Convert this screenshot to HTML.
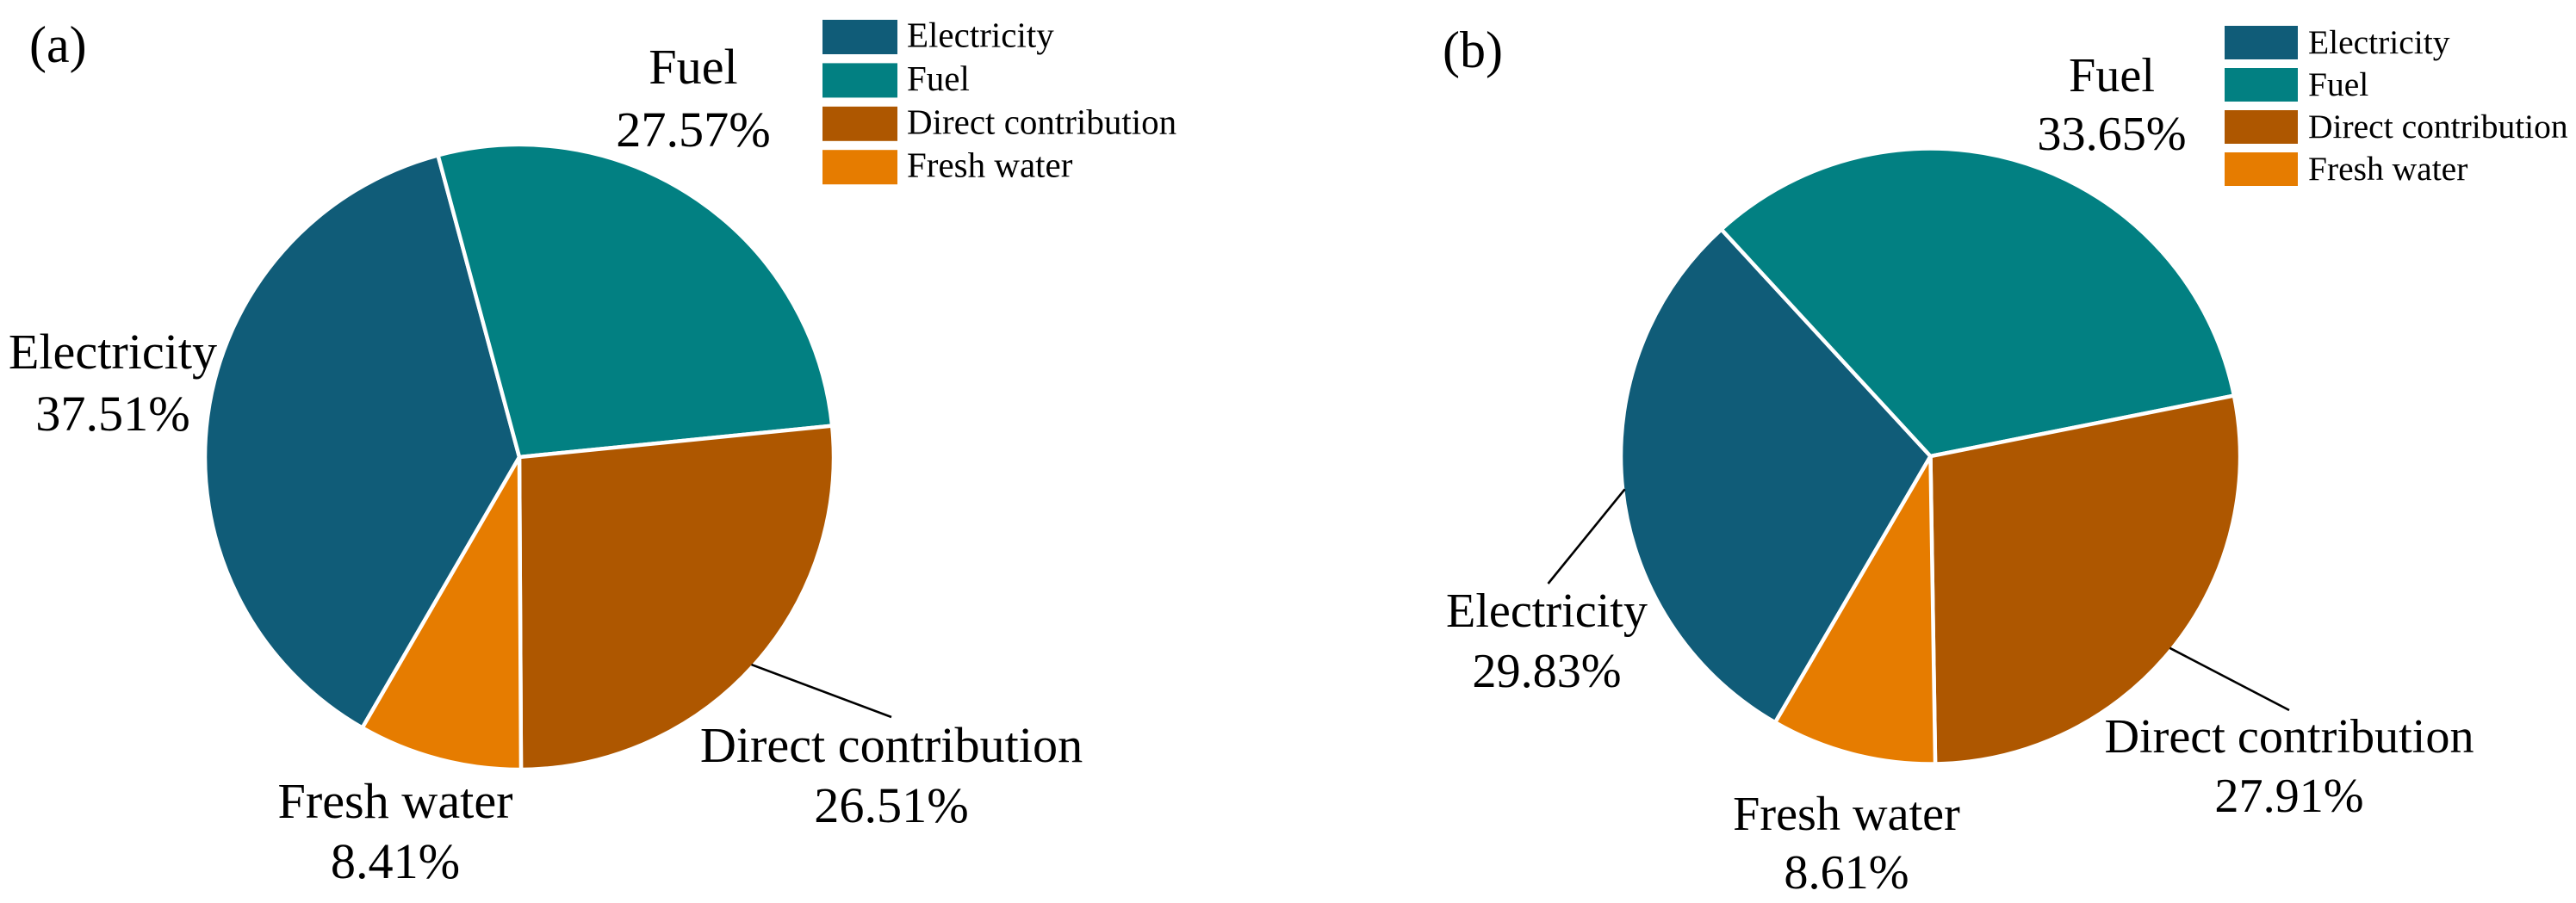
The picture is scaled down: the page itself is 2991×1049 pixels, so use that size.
<!DOCTYPE html>
<html lang="en">
<head>
<meta charset="utf-8">
<title>Contribution pie charts</title>
<style>
  html, body { margin: 0; padding: 0; background: #ffffff; }
  body { width: 2991px; height: 1049px; overflow: hidden; }
  svg { display: block; font-family: "Liberation Serif", "Times New Roman", serif; fill: #000; }
</style>
</head>
<body>
<svg id="figure" xmlns="http://www.w3.org/2000/svg" width="2991" height="1049" viewBox="0 0 2991 1049">
  <rect x="0" y="0" width="2991" height="1049" fill="#ffffff"></rect>
  <g id="panel-a"></g>
  <g id="panel-b"></g>
</svg>
<script>
// Data
const categories = ["Electricity", "Fuel", "Direct contribution", "Fresh water"];
const valuesA = [37.51, 27.57, 26.51, 8.41];
const valuesB = [29.83, 33.65, 27.91, 8.61];
const sliceColors = ["#105c78", "#028082", "#ae5700", "#e67c00"];

// Panel layout (not data)
const layoutA = {
  tag: "(a)", tagX: 34, tagY: 72, tagSize: 60, labelSize: 58.2,
  cx: 603, cy: 531, rx: 365, ry: 363, fuelStart: -15,
  swatchX: 955, swatchW: 87, swatchH: 40, swatchY: 23, swatchStep: 50.4,
  legendTextX: 1053, legendSize: 41, legendBaseline: 31.5,
  labels: [
    { x: 131, y: 428, y2: 500, leader: false },
    { x: 805, y: 97, y2: 170, leader: false },
    { x: 1035, y: 885, y2: 955, leader: true, endX: 1035, endY: 833 },
    { x: 459, y: 950, y2: 1020, leader: false }
  ]
};
const layoutB = {
  tag: "(b)", tagX: 1675, tagY: 78, tagSize: 60, labelSize: 56.2,
  cx: 2241.5, cy: 530, rx: 359.5, ry: 357.5, fuelStart: -42.5,
  swatchX: 2583, swatchW: 85, swatchH: 39, swatchY: 30, swatchStep: 49,
  legendTextX: 2680, legendSize: 39.5, legendBaseline: 32,
  labels: [
    { x: 1796, y: 728, y2: 798, leader: true, endX: 1797.5, endY: 678 },
    { x: 2452, y: 106, y2: 174, leader: false },
    { x: 2658, y: 874, y2: 943, leader: true, endX: 2658, endY: 825 },
    { x: 2144, y: 964, y2: 1032, leader: false }
  ]
};

const SVG_NS = "http://www.w3.org/2000/svg";

function slugOf(name) {
  return name.toLowerCase().replace(/\s+/g, "-");
}

function pointAt(layout, deg, inset) {
  const a = deg * Math.PI / 180;
  return {
    x: layout.cx + (layout.rx - inset) * Math.sin(a),
    y: layout.cy - (layout.ry - inset) * Math.cos(a)
  };
}

function addText(parent, str, x, y, size, anchor) {
  const t = document.createElementNS(SVG_NS, "text");
  t.setAttribute("x", x);
  t.setAttribute("y", y);
  t.setAttribute("font-size", size);
  t.setAttribute("text-anchor", anchor);
  t.textContent = str;
  parent.appendChild(t);
  return t;
}

function drawPanel(group, values, layout) {
  const total = values.reduce(function (s, v) { return s + v; }, 0);
  // Slices run clockwise; Fuel starts at fuelStart, Electricity ends there.
  let start = layout.fuelStart - values[0] / total * 360;
  const mids = [];

  values.forEach(function (v, i) {
    const sweep = v / total * 360;
    const end = start + sweep;
    const p0 = pointAt(layout, start, 0);
    const p1 = pointAt(layout, end, 0);
    const large = sweep > 180 ? 1 : 0;
    const d = "M" + layout.cx + " " + layout.cy +
      " L" + p0.x.toFixed(2) + " " + p0.y.toFixed(2) +
      " A" + layout.rx + " " + layout.ry + " 0 " + large + " 1 " + p1.x.toFixed(2) + " " + p1.y.toFixed(2) + " Z";
    const slice = document.createElementNS(SVG_NS, "path");
    slice.setAttribute("d", d);
    slice.setAttribute("fill", sliceColors[i]);
    slice.setAttribute("stroke", "#ffffff");
    slice.setAttribute("stroke-width", "4.5");
    slice.setAttribute("stroke-linejoin", "round");
    
    
    group.appendChild(slice);
    mids.push(start + sweep / 2);
    start = end;
  });

  layout.labels.forEach(function (lab, i) {
    if (lab.leader) {
      const from = pointAt(layout, mids[i], 2.5);
      const line = document.createElementNS(SVG_NS, "line");
      line.setAttribute("x1", from.x.toFixed(2));
      line.setAttribute("y1", from.y.toFixed(2));
      line.setAttribute("x2", lab.endX);
      line.setAttribute("y2", lab.endY);
      line.setAttribute("stroke", "#000000");
      line.setAttribute("stroke-width", "2.6");
      
      
      group.appendChild(line);
    }
    const nameText = addText(group, categories[i], lab.x, lab.y, layout.labelSize, "middle");
    
    
    const valueText = addText(group, values[i].toFixed(2) + "%", lab.x, lab.y2, layout.labelSize, "middle");
    
    
  });

  categories.forEach(function (name, i) {
    const y = layout.swatchY + i * layout.swatchStep;
    const swatch = document.createElementNS(SVG_NS, "rect");
    swatch.setAttribute("x", layout.swatchX);
    swatch.setAttribute("y", y);
    swatch.setAttribute("width", layout.swatchW);
    swatch.setAttribute("height", layout.swatchH);
    swatch.setAttribute("fill", sliceColors[i]);
    
    
    group.appendChild(swatch);
    const entry = addText(group, name, layout.legendTextX, y + layout.legendBaseline, layout.legendSize, "start");
    
    
  });

  const tag = addText(group, layout.tag, layout.tagX, layout.tagY, layout.tagSize, "start");
  
  
}

drawPanel(document.getElementById("panel-a"), valuesA, layoutA);
drawPanel(document.getElementById("panel-b"), valuesB, layoutB);
</script>
</body>
</html>
